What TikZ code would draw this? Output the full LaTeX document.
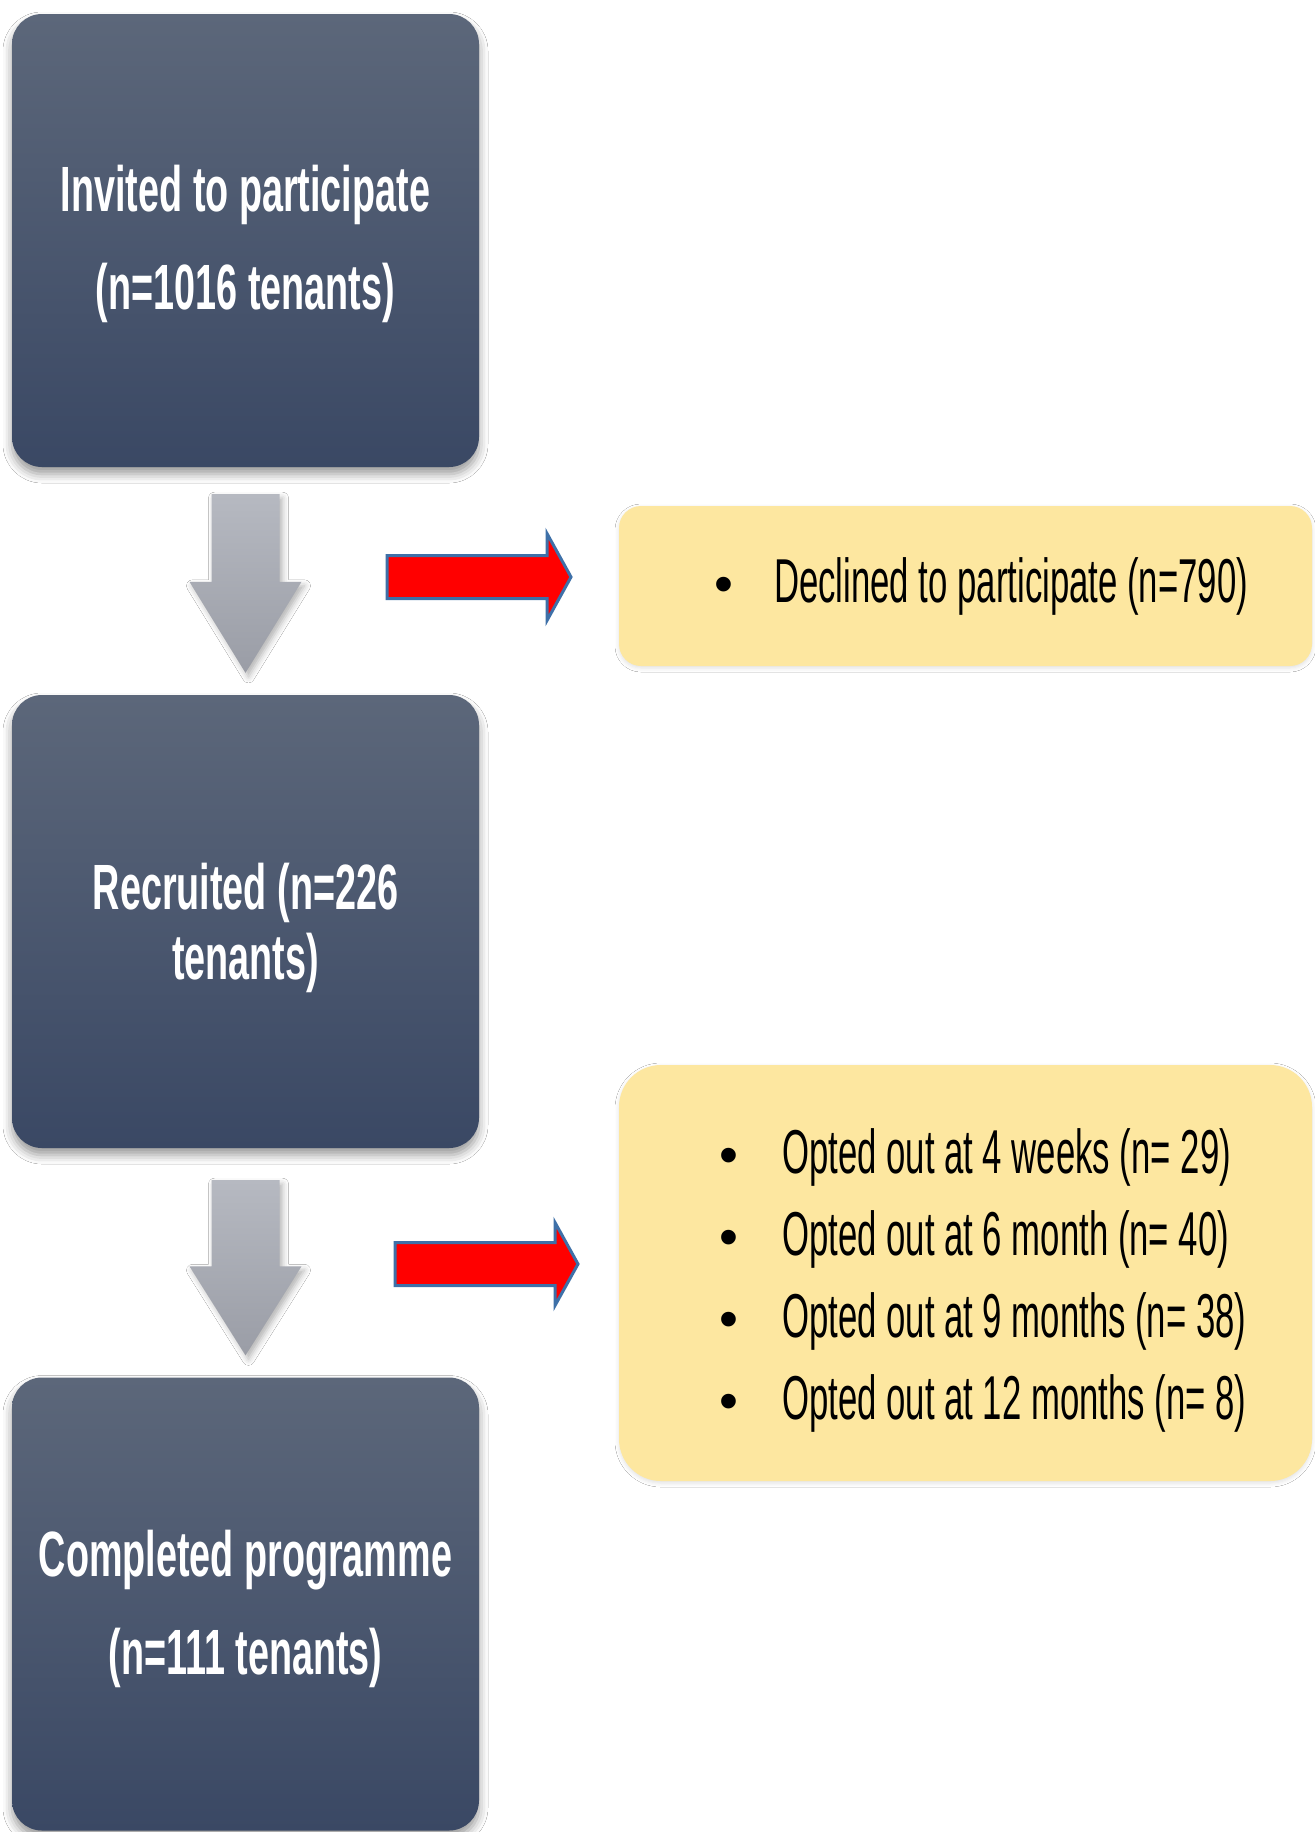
\documentclass[tikz,border=0pt]{standalone}
\usepackage{fontspec}
\newfontfamily\boxfont[FakeStretch=0.59]{Liberation Sans}
\newfontfamily\listfont[FakeStretch=0.56]{Liberation Sans}
\newfontfamily\dotfont{Liberation Sans}
\usetikzlibrary{calc,shadows.blur}

\definecolor{boxtop}{RGB}{92,103,122}
\definecolor{boxbot}{RGB}{58,72,100}
\definecolor{notefill}{RGB}{253,231,160}
\definecolor{arrowtop}{RGB}{182,185,193}
\definecolor{arrowbot}{RGB}{154,157,166}
\definecolor{sideedge}{RGB}{62,112,168}

\newcommand{\bul}{\makebox[20pt]{\dotfont\fontsize{54}{82}\selectfont\textbullet}}
% stage label: centred lines, optionally nudged downwards inside the box
\newcommand{\stagetext}[2][0pt]{\raisebox{-#1}[\height][\depth]{\begin{tabular}{@{}c@{}}#2\end{tabular}}}

\begin{document}
\begin{tikzpicture}[x=1pt,y=-1pt,
  stage/.style={rectangle, rounded corners=30pt, minimum width=467pt, minimum height=453pt,
    top color=boxtop, bottom color=boxbot, text=white, align=center, inner sep=0pt,
    font=\boxfont\bfseries\fontsize{64}{98}\selectfont,
    blur shadow={shadow xshift=0pt, shadow yshift=-7pt, shadow blur radius=9pt, shadow opacity=40}},
  note/.style={rectangle, fill=notefill, minimum width=693pt, inner sep=0pt,
    blur shadow={shadow xshift=0pt, shadow yshift=-2pt, shadow blur radius=4pt, shadow opacity=12}},
  listtext/.style={inner sep=0pt, text=black, font=\listfont\fontsize{62}{82}\selectfont},
  downarrow/.style={top color=arrowtop, bottom color=arrowbot,
    blur shadow={shadow xshift=3pt, shadow yshift=-4pt, shadow blur radius=6pt, shadow opacity=30}},
  sidearrow/.style={fill=red, draw=sideedge, line width=3pt, line join=miter}
]
\useasboundingbox (0,0) rectangle (1315,1832);
\fill[white] (0,0) rectangle (1315,1832);

% main flow boxes
\node[stage] (invited) at (245.5,240.5) {\stagetext{Invited to participate\\(n=1016 tenants)}};
\node[stage, font=\boxfont\bfseries\fontsize{64}{70}\selectfont] (recruited) at (245.5,921.5)
  {\stagetext[8.5pt]{Recruited (n=226\\tenants)}};
\node[stage] (completed) at (245.5,1604) {\stagetext[1.5pt]{Completed programme\\(n=111 tenants)}};

% side notes
\node[note, rounded corners=22pt, minimum height=160pt] (declined) at (965.5,586) {};
\node[note, rounded corners=42pt, minimum height=416pt] (optout) at (965.5,1273) {};

\node[listtext, anchor=base west] (declinedtext) at (714,602)
  {\begin{tabular}[t]{@{}l@{\hspace{40pt}}l@{}}\bul & Declined to participate (n=790)\end{tabular}};
\node[listtext, anchor=base west] (optouttext) at (719,1173)
  {\begin{tabular}[t]{@{}l@{\hspace{43pt}}l@{}}
   \bul & Opted out at 4 weeks (n= 29)\\
   \bul & Opted out at 6 month (n= 40)\\
   \bul & Opted out at 9 months (n= 38)\\
   \bul & Opted out at 12 months (n= 8)
   \end{tabular}};

% grey block arrows between stages
\path[downarrow] ($(invited.south)+(-34,27)$) -- ($(invited.south)+(34,27)$)
  -- ($(recruited.north)+(34,-113)$) -- ($(recruited.north)+(56,-113)$)
  -- ($(recruited.north)+(0,-22)$) -- ($(recruited.north)+(-56,-113)$)
  -- ($(recruited.north)+(-34,-113)$) -- cycle;
\path[downarrow] ($(recruited.south)+(-34,32)$) -- ($(recruited.south)+(34,32)$)
  -- ($(completed.north)+(34,-111)$) -- ($(completed.north)+(56,-111)$)
  -- ($(completed.north)+(0,-22)$) -- ($(completed.north)+(-56,-111)$)
  -- ($(completed.north)+(-34,-111)$) -- cycle;

% red arrows towards the side notes
\coordinate (out1s) at (387,577);
\coordinate (out1e) at (571,577);
\coordinate (out2s) at (395,1264);
\coordinate (out2e) at (578,1264);
\draw[sidearrow] ($(out1s)+(0,-21.5)$) -- ($(out1e)+(-24,-21.5)$) -- ($(out1e)+(-24,-43.5)$)
  -- (out1e) -- ($(out1e)+(-24,43.5)$) -- ($(out1e)+(-24,21.5)$) -- ($(out1s)+(0,21.5)$) -- cycle;
\draw[sidearrow] ($(out2s)+(0,-21.5)$) -- ($(out2e)+(-23,-21.5)$) -- ($(out2e)+(-23,-41.5)$)
  -- (out2e) -- ($(out2e)+(-23,41.5)$) -- ($(out2e)+(-23,21.5)$) -- ($(out2s)+(0,21.5)$) -- cycle;
\end{tikzpicture}
\end{document}
